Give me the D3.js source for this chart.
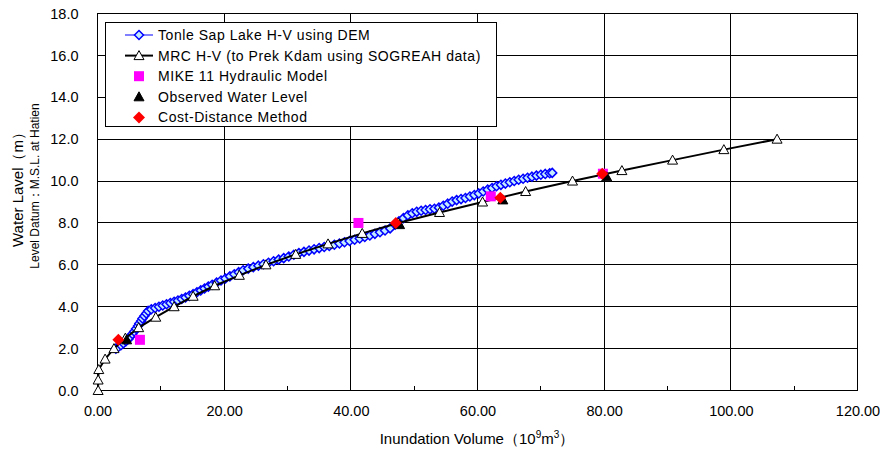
<!DOCTYPE html>
<html>
<head>
<meta charset="utf-8">
<script src="https://cdn.jsdelivr.net/npm/d3@7"></script>
<style>
  html, body { margin: 0; padding: 0; background: #fff; }
  svg { display: block; font-family: "Liberation Sans", Arial, sans-serif; }
</style>
</head>
<body>
<svg id="chart" width="880" height="451"></svg>
<script>
// Tonle Sap Lake H-V (DEM): [inundation volume (10^9 m3), water level (m)]
const demCurve = [
  [2.9,2.00],[3.3,2.08],[3.7,2.16],[4.1,2.26],[4.5,2.36],[4.9,2.46],[5.2,2.58],[5.5,2.70],
  [5.8,2.82],[6.1,2.95],[6.4,3.08],[6.6,3.20],[6.9,3.32],[7.1,3.44],[7.4,3.56],[7.7,3.68],
  [8.0,3.80],[8.5,3.88],[9.1,3.94],[9.7,4.00],[10.3,4.06],[10.9,4.12],[11.5,4.18],[12.1,4.24],
  [12.7,4.30],[13.3,4.37],[13.9,4.44],[14.5,4.52],[15.1,4.60],[15.7,4.69],[16.3,4.78],[16.9,4.87],
  [17.5,4.96],[18.1,5.05],[18.8,5.15],[19.5,5.25],[20.2,5.35],[20.9,5.45],[21.6,5.55],[22.3,5.65],
  [23.0,5.74],[23.8,5.82],[24.6,5.89],[25.4,5.96],[26.2,6.03],[27.0,6.10],[27.8,6.17],[28.6,6.25],
  [29.4,6.32],[30.2,6.40],[31.0,6.48],[31.8,6.56],[32.6,6.62],[33.4,6.68],[34.2,6.74],[35.0,6.80],
  [35.8,6.85],[36.6,6.90],[37.4,6.96],[38.2,7.02],[39.0,7.08],[39.8,7.14],[40.6,7.20],[41.4,7.26],
  [42.2,7.33],[43.0,7.40],[43.8,7.48],[44.6,7.56],[45.4,7.64],[46.2,7.74],[47.0,7.92],[47.6,8.08],
  [48.3,8.23],[49.0,8.36],[49.7,8.46],[50.4,8.53],[51.1,8.58],[51.8,8.62],[52.5,8.65],[53.2,8.68],
  [53.9,8.73],[54.6,8.82],[55.3,8.92],[56.0,9.02],[56.7,9.09],[57.4,9.14],[58.1,9.19],[58.8,9.26],
  [59.5,9.33],[60.2,9.41],[60.9,9.50],[61.6,9.59],[62.3,9.67],[63.0,9.75],[63.7,9.82],[64.4,9.88],
  [65.1,9.94],[65.8,10.00],[66.5,10.06],[67.2,10.11],[67.9,10.16],[68.6,10.21],[69.3,10.26],[70.0,10.30],
  [70.7,10.34],[71.4,10.37],[71.8,10.39]
];

// MRC H-V (to Prek Kdam, SOGREAH data)
const mrcCurve = [
  [0.1,0.0],[0.1,0.5],[0.2,1.0],[1.2,1.5],[2.6,2.0],[4.4,2.5],[6.5,3.0],[9.2,3.5],[12.1,4.0],
  [15.1,4.5],[18.5,5.0],[22.4,5.5],[26.6,6.0],[31.3,6.5],[36.4,7.0],[41.8,7.5],[47.5,8.0],
  [54.0,8.5],[60.8,9.0],[67.6,9.5],[75.0,10.0],[82.8,10.5],[90.8,11.0],[98.9,11.5],[107.3,12.0]
];

// Point estimates
const mikeModel = [[6.7,2.42],[41.2,8.0],[62.1,9.27],[79.8,10.35]];
const observedLevel = [[4.6,2.42],[47.7,7.92],[64.0,9.1],[80.4,10.2]];
const costDistance = [[3.3,2.42],[47.1,8.0],[63.6,9.2],[79.7,10.35]];

// Axis ticks
const xTicks = [0, 20, 40, 60, 80, 100, 120];
const xMinorTicks = [10, 30, 50, 70, 90, 110];
const yTicks = [0, 2, 4, 6, 8, 10, 12, 14, 16, 18];

const legendItems = [
  { label: "Tonle Sap Lake H-V using DEM", line: "#0000ff", symbol: "demDiamond" },
  { label: "MRC H-V (to Prek Kdam using SOGREAH data)", line: "#000000", symbol: "openTriangle" },
  { label: "MIKE 11 Hydraulic Model", line: null, symbol: "square" },
  { label: "Observed Water Level", line: null, symbol: "solidTriangle" },
  { label: "Cost-Distance Method", line: null, symbol: "redDiamond" }
];

const svg = d3.select("#chart");
const x = d3.scaleLinear().domain([0, 120]).range([97.5, 857.5]);
const y = d3.scaleLinear().domain([0, 18]).range([390.5, 13.5]);
const [plotLeft, plotRight] = x.range();
const [plotBottom, plotTop] = y.range();

// Grid
const grid = svg.append("g").attr("shape-rendering", "crispEdges");
grid.selectAll("line.h").data(yTicks.slice(1, -1)).join("line")
  .attr("x1", plotLeft).attr("x2", plotRight)
  .attr("y1", d => y(d)).attr("y2", d => y(d))
  .attr("stroke", "#000").attr("stroke-width", 1);
grid.selectAll("line.v").data(xTicks.slice(1, -1)).join("line")
  .attr("y1", plotTop).attr("y2", plotBottom)
  .attr("x1", d => x(d)).attr("x2", d => x(d))
  .attr("stroke", "#000").attr("stroke-width", 1);
grid.selectAll("line.m").data(xMinorTicks).join("line")
  .attr("y1", plotBottom).attr("y2", plotBottom - 5)
  .attr("x1", d => x(d)).attr("x2", d => x(d))
  .attr("stroke", "#000").attr("stroke-width", 1);

// Axes
const xAxis = svg.append("g").attr("transform", `translate(0,${plotBottom})`)
  .call(d3.axisBottom(x).tickValues(xTicks).tickFormat(d3.format(".2f")).tickSize(0).tickPadding(15));
const yAxis = svg.append("g").attr("transform", `translate(${plotLeft},0)`)
  .call(d3.axisLeft(y).tickValues(yTicks).tickFormat(d3.format(".1f")).tickSize(0).tickPadding(19));
[xAxis, yAxis].forEach(a => {
  a.select(".domain").remove();
  a.selectAll("text").attr("font-size", 14.5).attr("fill", "#000")
    .attr("font-family", "Liberation Sans, Arial, sans-serif");
});

// Frame
svg.append("rect").attr("x", plotLeft).attr("y", plotTop)
  .attr("width", plotRight - plotLeft).attr("height", plotBottom - plotTop)
  .attr("fill", "none").attr("stroke", "#000").attr("stroke-width", 1)
  .attr("shape-rendering", "crispEdges");

const line = d3.line().x(d => x(d[0])).y(d => y(d[1]));

// Symbol drawers
const symbols = {
  demDiamond: g => g.append("path").attr("d", "M0,-4.5L4.5,0L0,4.5L-4.5,0Z")
    .attr("fill", "#c4ecff").attr("stroke", "#0000ff").attr("stroke-width", 1.5),
  openTriangle: g => g.append("path").attr("d", "M0,-5L5,4L-5,4Z")
    .attr("fill", "#fff").attr("stroke", "#000").attr("stroke-width", 1),
  solidTriangle: g => g.append("path").attr("d", "M0,-5L5,4L-5,4Z")
    .attr("fill", "#000").attr("stroke", "#000").attr("stroke-width", 1),
  square: g => g.append("rect").attr("x", -5).attr("y", -5).attr("width", 10).attr("height", 10)
    .attr("fill", "#ff00ff"),
  redDiamond: g => g.append("path").attr("d", "M0,-6L6,0L0,6L-6,0Z").attr("fill", "#ff0000")
};

function drawPoints(data, symbol) {
  const g = svg.append("g");
  data.forEach(d => {
    const m = g.append("g").attr("transform", `translate(${x(d[0])},${y(d[1])})`);
    symbols[symbol](m);
  });
}

// DEM series
svg.append("path").datum(demCurve).attr("d", line)
  .attr("fill", "none").attr("stroke", "#0000ff").attr("stroke-width", 1);
drawPoints(demCurve, "demDiamond");

// MRC series
svg.append("path").datum(mrcCurve).attr("d", line)
  .attr("fill", "none").attr("stroke", "#000").attr("stroke-width", 2);
drawPoints(mrcCurve, "openTriangle");

drawPoints(mikeModel, "square");
drawPoints(observedLevel, "solidTriangle");
drawPoints(costDistance, "redDiamond");

// Legend
const legend = svg.append("g");
legend.append("rect").attr("x", 105.5).attr("y", 22.5).attr("width", 391).attr("height", 104)
  .attr("fill", "#fff").attr("stroke", "#000").attr("stroke-width", 1)
  .attr("shape-rendering", "crispEdges");
legendItems.forEach((item, i) => {
  const cy = 35 + i * 20.6;
  const row = legend.append("g");
  if (item.line) {
    row.append("line").attr("x1", 125).attr("x2", 153).attr("y1", cy).attr("y2", cy)
      .attr("stroke", item.line).attr("stroke-width", item.line === "#000000" ? 2 : 1);
  }
  const m = row.append("g").attr("transform", `translate(139,${cy})`);
  symbols[item.symbol](m);
  row.append("text").attr("x", 158).attr("y", cy).attr("dy", "0.36em")
    .attr("font-size", 14).attr("letter-spacing", "0.55px").attr("fill", "#000").text(item.label);
});

// Axis titles
const yTitle = svg.append("g").attr("transform", "translate(23,186) rotate(-90)");
yTitle.append("text").attr("text-anchor", "middle").attr("font-size", 15).attr("fill", "#000")
  .text("Water Lavel（m）");
yTitle.append("text").attr("y", 16).attr("text-anchor", "middle").attr("font-size", 12).attr("fill", "#000")
  .text("Level Datum：M.S.L. at Hatien");

const xTitle = svg.append("text").attr("x", 477).attr("y", 444).attr("text-anchor", "middle")
  .attr("font-size", 15).attr("fill", "#000");
xTitle.append("tspan").text("Inundation Volume（10");
xTitle.append("tspan").attr("font-size", 10).attr("dy", -6).text("9");
xTitle.append("tspan").attr("dy", 6).text("m");
xTitle.append("tspan").attr("font-size", 10).attr("dy", -6).text("3");
xTitle.append("tspan").attr("dy", 6).text("）");
</script>
</body>
</html>
